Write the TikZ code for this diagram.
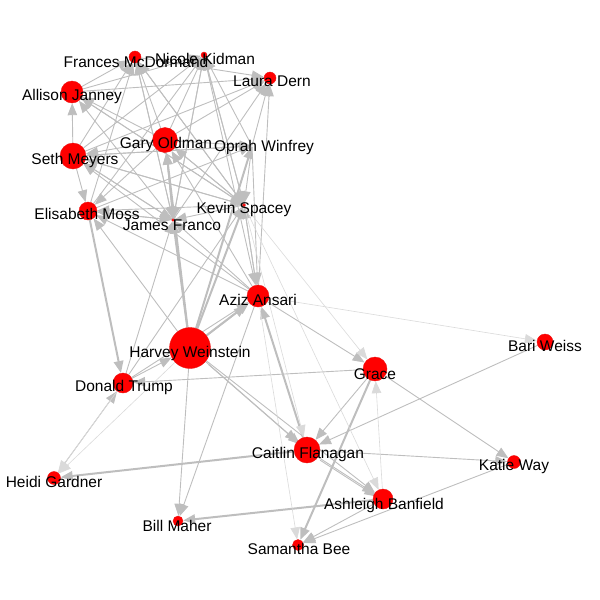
\documentclass[tikz,border=0pt]{standalone}
\usepackage{fontspec}
\setmainfont{Liberation Sans}
\usetikzlibrary{arrows.meta}
\pgfdeclarelayer{bg}
\pgfsetlayers{bg,main}
\definecolor{eg}{HTML}{BEBEBE}
\definecolor{el}{HTML}{DADADA}
\tikzset{
 vtx/.style={circle,fill=red,draw=red!85!gray,line width=0.4pt,inner sep=0pt,minimum size=#1},
 hid/.style={circle,inner sep=0pt,minimum size=1pt},
 lbl/.style={font=\fontsize{15.5}{16}\selectfont,inner sep=0pt,text=black},
 ed/.style={draw=eg,line width=0.9pt,-{Triangle[length=12pt,width=9.5pt]}},
 edw/.style={draw=eg,line width=2pt,-{Triangle[length=12pt,width=9.5pt]}},
 edl/.style={draw=el,line width=0.6pt,-{Triangle[length=12pt,width=9.5pt]}},
}
\begin{document}
\begin{tikzpicture}[x=1pt,y=-1pt]
\useasboundingbox (0,0) rectangle (600,600);
% vertices
\node[vtx=12pt] (fra) at (135,57) {};
\node[vtx=6pt] (nic) at (204,55) {};
\node[vtx=12pt] (lau) at (270,78) {};
\node[vtx=22pt] (all) at (72,92) {};
\node[vtx=25pt] (gar) at (165,140) {};
\node[hid] (opr) at (252,146) {};
\node[vtx=26pt] (set) at (73,156) {};
\node[vtx=18pt] (eli) at (88,211) {};
\node[vtx=2.5pt] (jam) at (173,220) {};
\node[vtx=3pt] (kev) at (244,205) {};
\node[vtx=22pt] (azi) at (258,296) {};
\node[vtx=41pt] (har) at (190,348) {};
\node[vtx=20pt] (don) at (123,383) {};
\node[vtx=24pt] (gra) at (375,369) {};
\node[vtx=16pt] (bar) at (545,342) {};
\node[vtx=26pt] (cai) at (307,450) {};
\node[vtx=13pt] (kat) at (514,462) {};
\node[vtx=13pt] (hei) at (54,478) {};
\node[vtx=20pt] (ash) at (383,499) {};
\node[vtx=10pt] (bil) at (178,521) {};
\node[vtx=11pt] (sam) at (298,545) {};
% edges
\begin{pgfonlayer}{bg}
\foreach \a/\b in {set/fra,gar/fra,all/fra,eli/fra,kev/fra,jam/fra,
 gar/nic,set/nic,kev/nic,jam/nic,opr/nic,all/nic,eli/nic,
 gar/lau,set/lau,all/lau,opr/lau,jam/lau,azi/lau,fra/lau,
 set/all,gar/all,kev/all,jam/all,
 jam/gar,kev/gar,azi/gar,
 set/opr,gar/opr,eli/opr,
 gar/set,kev/set,jam/set,azi/set,opr/set,
 azi/eli,set/eli,kev/eli,jam/eli,gar/eli,har/eli,
 don/jam,set/jam,eli/jam,gar/jam,kev/jam,azi/jam,nic/jam,fra/jam,
 gar/kev,set/kev,all/kev,fra/kev,azi/kev,don/kev,opr/kev,nic/kev,
 don/azi,kev/azi,opr/azi,nic/azi,
 don/har,hei/don,gra/don,
 azi/gra,har/cai,har/ash,cai/ash,gra/cai,bar/cai,cai/kat,gra/kat,
 kat/sam,ash/sam,har/bil,azi/bil}
 \draw[ed] (\a) -- (\b);
\foreach \a/\b in {har/gar,har/jam,har/kev,har/opr,har/azi,cai/hei,gra/sam,cai/azi,ash/bil,eli/don}
 \draw[edw] (\a) -- (\b);
\foreach \a/\b in {don/hei,ash/gra,kev/gra,kev/ash,azi/bar,azi/sam,har/hei,kev/cai}
 \draw[edl] (\a) -- (\b);
\draw[ed,transform canvas={shift={(-3pt,-3pt)}}] (har) -- (azi);
\draw[ed,transform canvas={shift={(3pt,-3pt)}}] (har) -- (cai);
\draw[ed,transform canvas={shift={(2pt,-3pt)}}] (cai) -- (ash);
\end{pgfonlayer}
% labels
\node[lbl] (lfra) at (136,62) {Frances McDormand};
\node[lbl] (lnic) at (205,59) {Nicole Kidman};
\node[lbl] (llau) at (272,81) {Laura Dern};
\node[lbl] (lall) at (72,96) {Allison Janney};
\node[lbl] (lgar) at (166,144) {Gary Oldman};
\node[lbl] (lopr) at (264,147) {Oprah Winfrey};
\node[lbl] (lset) at (75,160) {Seth Meyers};
\node[lbl] (leli) at (87,214) {Elisabeth Moss};
\node[lbl] (ljam) at (172,225) {James Franco};
\node[lbl] (lkev) at (244,209) {Kevin Spacey};
\node[lbl] (lazi) at (258,300) {Aziz Ansari};
\node[lbl] (lhar) at (190,353) {Harvey Weinstein};
\node[lbl] (ldon) at (124,387) {Donald Trump};
\node[lbl] (lgra) at (375,374) {Grace};
\node[lbl] (lbar) at (545,346) {Bari Weiss};
\node[lbl] (lcai) at (308,454) {Caitlin Flanagan};
\node[lbl] (lkat) at (514,466) {Katie Way};
\node[lbl] (lhei) at (54,482) {Heidi Gardner};
\node[lbl] (lash) at (384,505) {Ashleigh Banfield};
\node[lbl] (lbil) at (177,526) {Bill Maher};
\node[lbl] (lsam) at (299,549) {Samantha Bee};
\end{tikzpicture}
\end{document}
